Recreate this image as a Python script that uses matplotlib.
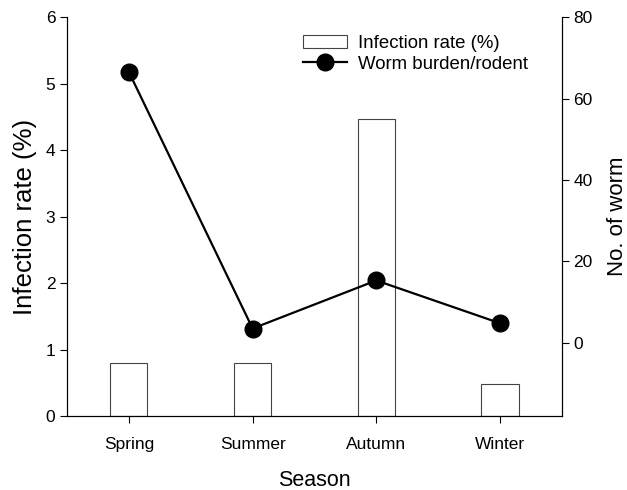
import matplotlib.pyplot as plt
import numpy as np

plt.rcParams['font.family'] = ['Liberation Sans', 'DejaVu Sans']

seasons = ['Spring', 'Summer', 'Autumn', 'Winter']
infection_rate = [0.80, 0.79, 4.47, 0.48]   # %, left axis
worm_burden = [66.5, 3.5, 15.3, 4.8]        # worms/rodent, right axis

x = np.arange(len(seasons))

fig = plt.figure(figsize=(6.27, 4.9), dpi=100)
ax = fig.add_axes([0.107, 0.151, 0.789, 0.814])
ax2 = ax.twinx()

bars = ax.bar(x, infection_rate, width=0.3, facecolor='white', edgecolor='#444444',
              linewidth=0.8, label='Infection rate (%)')
line, = ax2.plot(x, worm_burden, color='black', linewidth=1.6, marker='o',
                 markersize=12, label='Worm burden/rodent')

ax.set_xlim(-0.5, 3.5)
ax.set_ylim(0, 6)
ax2.set_ylim(-18, 80)
ax2.set_yticks([0, 20, 40, 60, 80])

ax.set_xticks(x)
ax.set_xticklabels(seasons)
for a in (ax, ax2):
    a.spines['top'].set_visible(False)
    a.tick_params(labelsize=12.5, direction='out', length=5, width=0.8)
ax.tick_params(axis='x', pad=10)

ax.set_xlabel('Season', fontsize=15.5, labelpad=13)
ax.set_ylabel('Infection rate (%)', fontsize=18.5, labelpad=6)
ax2.set_ylabel('No. of worm', fontsize=16, labelpad=10)

ax.legend([bars, line], [bars.get_label(), line.get_label()], loc='upper left',
          bbox_to_anchor=(0.477, 0.955), frameon=False, fontsize=13.4,
          borderpad=0, borderaxespad=0, handlelength=2.35, handletextpad=0.6,
          labelspacing=0.2)

fig.savefig('out.png', dpi=100)
